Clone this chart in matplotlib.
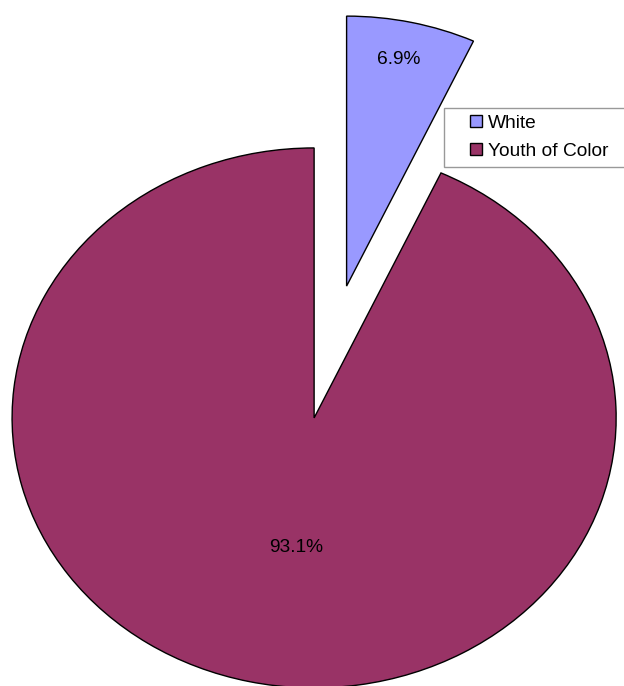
import numpy as np
import matplotlib.pyplot as plt
from matplotlib import patches
from matplotlib.legend_handler import HandlerPatch

plt.rcParams['font.family'] = ['Liberation Sans', 'DejaVu Sans']

labels = ['White', 'Youth of Color']
shares = [6.9, 93.1]
colours = ['#9999FF', '#993366']
explode = [0.5, 0.0]
# how far from each wedge's apex the percentage text sits
pct_dist = [0.86, 0.49]
# small sideways nudge of each percentage text (in radius units)
pct_dx = [-0.013, 0.046]

FONT = 13.8


def right_square(legend, orig_handle, xdescent, ydescent, width, height, fontsize):
    # small square key pushed to the right end of the handle box
    side = height
    return patches.Rectangle((width - side - xdescent, -ydescent), side, side)


fig = plt.figure(figsize=(6.24, 6.86), dpi=100)
ax = fig.add_axes([0, 0, 1, 1])

wedges, _, autotexts = ax.pie(shares, colors=colours, explode=explode, startangle=90,
                              counterclock=False, autopct='%.1f%%',
                              wedgeprops=dict(edgecolor='black', linewidth=1.0),
                              textprops=dict(fontsize=FONT, color='black'))

# move the percentage labels along each wedge's mid-angle
for w, t, d, dx in zip(wedges, autotexts, pct_dist, pct_dx):
    ang = np.deg2rad((w.theta1 + w.theta2) / 2)
    cx, cy = w.center
    t.set_position((cx + d * np.cos(ang) + dx, cy + d * np.sin(ang)))

# stretched pie: not equal aspect, like the original chart
ax.set_aspect('auto')
ax.set_xlim(-1.04, 1.026)
ax.set_ylim(-0.993, 1.548)
ax.axis('off')

# legend box runs off the right edge of the picture
leg = ax.legend(wedges, labels, loc='upper left', bbox_to_anchor=(0.712, 0.843, 0.3, 0),
                bbox_transform=fig.transFigure, mode='expand', fontsize=FONT, frameon=True,
                fancybox=False, handlelength=1.6, handleheight=0.6, handletextpad=0.3,
                borderpad=0.38, labelspacing=0.55, borderaxespad=0,
                handler_map={patches.Wedge: HandlerPatch(patch_func=right_square)})
leg.get_frame().set_edgecolor('#808080')
leg.get_frame().set_linewidth(1.0)
for h in leg.legend_handles:
    h.set_edgecolor('black')
    h.set_linewidth(1.0)

fig.savefig('out.png', dpi=100)
